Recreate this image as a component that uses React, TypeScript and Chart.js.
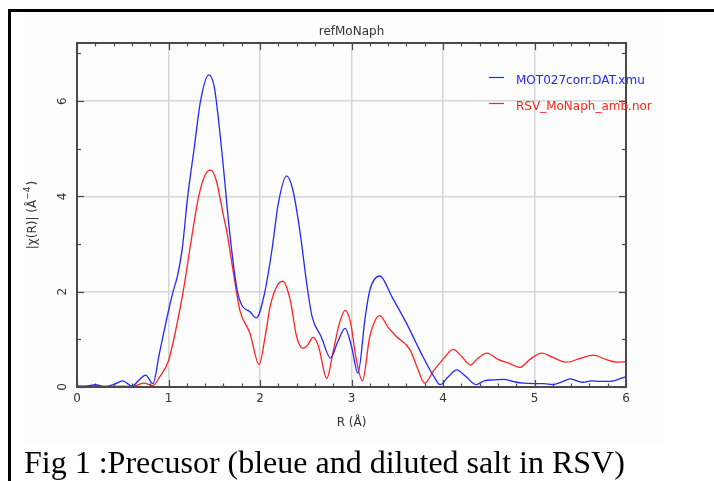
import React, { useEffect, useRef } from "react";
import { Chart, registerables } from "chart.js";

Chart.register(...registerables);

const chartTitle = "refMoNaph";
const xAxisTitle = "R (Å)";
const seriesNames = ["MOT027corr.DAT.xmu", "RSV_MoNaph_amb.nor"];
const seriesColors = ["#2626ff", "#ff2222"];
const caption = "Fig 1 :Precusor (bleue and diluted salt in RSV)";
const xTickValues = [0, 1, 2, 3, 4, 5, 6];
const yTickValues = [0, 2, 4, 6];

const blueR = [
  0, 0.1, 0.2, 0.3, 0.4, 0.5, 0.6, 0.68, 0.75, 0.83, 0.9, 1.0, 1.05, 1.1, 1.15, 1.21, 1.28, 1.35, 1.44,
  1.5, 1.58, 1.67, 1.75, 1.8, 1.89, 1.96, 2.05, 2.13, 2.2, 2.29, 2.36, 2.44, 2.51, 2.57, 2.67, 2.77,
  2.85, 2.93, 3.0, 3.07, 3.15, 3.2, 3.31, 3.44, 3.6, 3.7, 3.78, 3.9, 3.97, 4.05, 4.15, 4.25, 4.36,
  4.45, 4.55, 4.66, 4.78, 4.88, 5.0, 5.1, 5.2, 5.3, 5.39, 5.46, 5.53, 5.62, 5.72, 5.82, 5.9, 6.0,
];
const blueChi = [
  0.02, 0.02, 0.05, 0.01, 0.05, 0.13, 0.02, 0.15, 0.25, 0.07, 0.7, 1.6, 2.0, 2.35, 2.9, 4.0, 5.0, 6.0, 6.55,
  6.3, 5.0, 3.22, 2.03, 1.72, 1.58, 1.45, 1.97, 2.87, 3.85, 4.43, 4.13, 3.22, 2.18, 1.47, 1.05, 0.61,
  0.95, 1.23, 0.85, 0.29, 1.47, 2.03, 2.33, 1.9, 1.34, 0.95, 0.64, 0.22, 0.05, 0.2, 0.36, 0.22, 0.05,
  0.13, 0.15, 0.16, 0.11, 0.08, 0.07, 0.07, 0.05, 0.11, 0.17, 0.13, 0.1, 0.13, 0.12, 0.12, 0.15, 0.22,
];

const redR = [
  0, 0.1, 0.2, 0.3, 0.5, 0.6, 0.73, 0.83, 0.9, 1.0, 1.08, 1.16, 1.25, 1.33, 1.4, 1.46, 1.52, 1.6, 1.64,
  1.71, 1.78, 1.89, 1.99, 2.06, 2.11, 2.18, 2.25, 2.33, 2.4, 2.47, 2.52, 2.58, 2.64, 2.73, 2.8, 2.87,
  2.93, 2.99, 3.05, 3.12, 3.2, 3.31, 3.4, 3.49, 3.64, 3.72, 3.8, 3.9, 4.0, 4.11, 4.2, 4.3, 4.38, 4.48,
  4.6, 4.72, 4.84, 4.95, 5.08, 5.2, 5.35, 5.5, 5.64, 5.78, 5.9, 6.0,
];
const redChi = [
  0.01, 0.01, 0.03, 0.01, 0.02, 0.01, 0.08, 0.03, 0.2, 0.55, 1.2, 2.0, 3.1, 4.0, 4.45, 4.55, 4.35, 3.6, 3.23,
  2.39, 1.61, 1.13, 0.47, 1.1, 1.68, 2.1, 2.22, 1.83, 1.06, 0.81, 0.88, 1.04, 0.85, 0.18, 0.75, 1.35,
  1.61, 1.35, 0.6, 0.13, 1.06, 1.5, 1.25, 1.06, 0.78, 0.4, 0.08, 0.35, 0.58, 0.79, 0.65, 0.46, 0.6, 0.71,
  0.58, 0.5, 0.41, 0.58, 0.71, 0.62, 0.52, 0.6, 0.67, 0.58, 0.52, 0.53,
];

const FONT = '"DejaVu Sans", sans-serif';

const decorPlugin = {
  id: "decor",
  afterDraw(chart: any) {
    const { ctx, chartArea: a } = chart;
    const xs = chart.scales.x;
    const ys = chart.scales.y;
    ctx.save();
    const seg = (x1: number, y1: number, x2: number, y2: number) => {
      ctx.beginPath();
      ctx.moveTo(x1, y1);
      ctx.lineTo(x2, y2);
      ctx.stroke();
    };
    // frame
    ctx.strokeStyle = "#4a4a4a";
    ctx.lineWidth = 2;
    ctx.strokeRect(a.left, a.top, a.right - a.left, a.bottom - a.top);
    // x ticks (minor every 0.2, major every 1)
    ctx.lineWidth = 1.2;
    for (let i = 0; i <= 30; i++) {
      const px = Math.round(xs.getPixelForValue(i * 0.2)) + 0.5;
      const len = i % 5 === 0 ? 7 : 3.5;
      seg(px, a.bottom, px, a.bottom - len);
      seg(px, a.top, px, a.top + len);
    }
    for (let v = 0; v <= 7; v++) {
      const py = Math.round(ys.getPixelForValue(v)) + 0.5;
      const len = v % 2 === 0 ? 7 : 4;
      seg(a.left, py, a.left + len, py);
      seg(a.right, py, a.right - len, py);
    }
    // title
    ctx.fillStyle = "#333";
    ctx.font = `12px ${FONT}`;
    ctx.textAlign = "center";
    ctx.textBaseline = "middle";
    ctx.fillText(chartTitle, (a.left + a.right) / 2, a.top - 11);
    // x tick labels
    for (const v of xTickValues) {
      ctx.fillText(String(v), xs.getPixelForValue(v), a.bottom + 12);
    }
    // x title
    ctx.fillText(xAxisTitle, (a.left + a.right) / 2, a.bottom + 36);
    // y tick labels rotated
    for (const v of yTickValues) {
      ctx.save();
      ctx.translate(a.left - 14, ys.getPixelForValue(v));
      ctx.rotate(-Math.PI / 2);
      ctx.fillText(String(v), 0, 0);
      ctx.restore();
    }
    // y title rotated with superscript
    ctx.save();
    ctx.translate(a.left - 44, (a.top + a.bottom) / 2);
    ctx.rotate(-Math.PI / 2);
    const p1 = "|\u03c7(R)| (Å";
    const p2 = "\u22124";
    const p3 = ")";
    ctx.font = `12px ${FONT}`;
    const w1 = ctx.measureText(p1).width;
    const w3 = ctx.measureText(p3).width;
    ctx.font = `9px ${FONT}`;
    const w2 = ctx.measureText(p2).width;
    const total = w1 + w2 + w3 + 1;
    let cx = -total / 2;
    ctx.textAlign = "left";
    ctx.font = `12px ${FONT}`;
    ctx.fillText(p1, cx, 0);
    cx += w1;
    ctx.font = `9px ${FONT}`;
    ctx.fillText(p2, cx, -5);
    cx += w2 + 1;
    ctx.font = `12px ${FONT}`;
    ctx.fillText(p3, cx, 0);
    ctx.restore();
    // legend
    ctx.textAlign = "left";
    ctx.font = `12px ${FONT}`;
    seriesNames.forEach((name, i) => {
      const ly = 77.5 + i * 26;
      ctx.strokeStyle = seriesColors[i];
      ctx.lineWidth = 1.2;
      seg(489, ly, 504, ly);
      ctx.fillStyle = seriesColors[i];
      ctx.fillText(name, 516, ly + 3);
    });
    ctx.restore();
  },
};

export default function App() {
  const ref = useRef<HTMLCanvasElement | null>(null);
  useEffect(() => {
    if (!ref.current) return;
    const chart = new Chart(ref.current, {
      type: "line",
      data: {
        datasets: [
          {
            label: seriesNames[0],
            data: blueR.map((r, i) => ({ x: r, y: blueChi[i] })),
            borderColor: seriesColors[0],
            borderWidth: 1.3,
            pointRadius: 0,
            cubicInterpolationMode: "monotone",
          },
          {
            label: seriesNames[1],
            data: redR.map((r, i) => ({ x: r, y: redChi[i] })),
            borderColor: seriesColors[1],
            borderWidth: 1.3,
            pointRadius: 0,
            cubicInterpolationMode: "monotone",
          },
        ],
      },
      options: {
        animation: false,
        responsive: false,
        events: [],
        layout: { padding: { left: 77, right: 88, top: 43, bottom: 94 } },
        plugins: { legend: { display: false }, title: { display: false }, tooltip: { enabled: false } },
        scales: {
          x: {
            type: "linear",
            min: 0,
            max: 6,
            ticks: { display: false, stepSize: 1 },
            grid: { color: "#d6d6d6", lineWidth: 1.5, drawTicks: false },
            border: { display: false },
            afterFit: (s: any) => {
              s.height = 0;
            },
          },
          y: {
            type: "linear",
            min: 0,
            max: 7.22,
            ticks: { display: false, stepSize: 2 },
            grid: { color: "#d6d6d6", lineWidth: 1.5, drawTicks: false },
            border: { display: false },
            afterFit: (s: any) => {
              s.width = 0;
            },
          },
        },
      },
      plugins: [decorPlugin],
    } as any);
    return () => chart.destroy();
  }, []);

  return (
    <div style={{ position: "fixed", left: 0, top: 0, width: 714, height: 481, overflow: "hidden", background: "#fff" }}>
      <div style={{ position: "absolute", left: 23, top: 14, width: 641, height: 429, background: "#fdfdfd" }} />
      <canvas
        ref={ref}
        width={714}
        height={481}
        style={{ position: "absolute", left: 0, top: 0, width: 714, height: 481 }}
      />
      <div
        style={{
          position: "absolute",
          left: 8,
          top: 9,
          width: 706,
          height: 472,
          borderTop: "3px solid #000",
          borderLeft: "3px solid #000",
          boxSizing: "border-box",
        }}
      />
      <div
        style={{
          position: "absolute",
          left: 24,
          top: 446,
          fontFamily: '"Liberation Serif", "Times New Roman", serif',
          fontSize: 32,
          lineHeight: "32px",
          whiteSpace: "nowrap",
          color: "#000",
        }}
      >
        {caption}
      </div>
    </div>
  );
}
